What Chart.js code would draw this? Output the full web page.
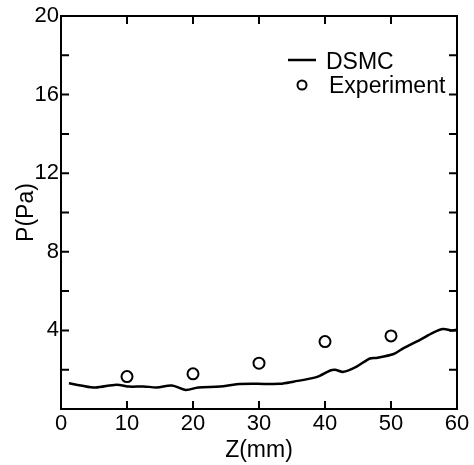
<!DOCTYPE html>
<html>
<head>
<meta charset="utf-8">
<script src="https://cdn.jsdelivr.net/npm/chart.js@4.4.1/dist/chart.umd.min.js"></script>
<style>
  body { margin: 0; background: #fff; }
  #wrap { width: 474px; height: 465px; }
</style>
</head>
<body>
<div id="wrap"><canvas id="chart"></canvas></div>
<script>
// DSMC curve
const dsmcZ = [1.2, 3, 5.2, 8.4, 10.4, 12.5, 14.5, 16.8, 18.9, 20.8, 24.1, 26.6, 29.6, 33.2, 35.2, 38.7, 40.8, 41.5, 42.8, 44.8, 46.8, 47.8, 50.4, 51.9, 54.4, 56.4, 57.9, 59.2, 60];
const dsmcP = [1.31, 1.2, 1.09, 1.24, 1.14, 1.15, 1.1, 1.2, 0.97, 1.1, 1.14, 1.26, 1.28, 1.28, 1.39, 1.62, 1.96, 2.0, 1.89, 2.16, 2.57, 2.6, 2.8, 3.1, 3.52, 3.89, 4.07, 4.0, 4.03];
// experiment points
const expZ = [10, 20, 30, 40, 50];
const expP = [1.65, 1.79, 2.33, 3.43, 3.72];

const xTicks = [0, 10, 20, 30, 40, 50, 60];
const yTicks = [0, 4, 8, 12, 16, 20];
const yMinor = [2, 6, 10, 14, 18];

const font = 'Liberation Sans, Arial, sans-serif';
Chart.defaults.font.family = font;
Chart.defaults.color = '#000';

function pts(xs, ys) {
  return xs.map((x, i) => ({ x: x, y: ys[i] }));
}

// box around the plot with inward ticks
const frame = {
  id: 'frame',
  afterDatasetsDraw(chart) {
    const ctx = chart.ctx;
    const a = chart.chartArea;
    const sx = chart.scales.x, sy = chart.scales.y;
    const len = 8;
    ctx.save();
    ctx.strokeStyle = '#000';
    ctx.lineWidth = 2;
    ctx.strokeRect(a.left, a.top, a.right - a.left, a.bottom - a.top);
    ctx.beginPath();
    xTicks.slice(1, -1).forEach(v => {
      const px = sx.getPixelForValue(v);
      ctx.moveTo(px, a.bottom); ctx.lineTo(px, a.bottom - len);
      ctx.moveTo(px, a.top); ctx.lineTo(px, a.top + len);
    });
    yTicks.slice(1, -1).concat(yMinor).forEach(v => {
      const py = sy.getPixelForValue(v);
      ctx.moveTo(a.left, py); ctx.lineTo(a.left + len, py);
      ctx.moveTo(a.right, py); ctx.lineTo(a.right - len, py);
    });
    ctx.stroke();
    ctx.restore();
  }
};

// legend inside the plot, top right
const legendBox = {
  id: 'legendBox',
  afterDraw(chart) {
    const ctx = chart.ctx;
    const ds = chart.data.datasets;
    ctx.save();
    ctx.font = '23px ' + font;
    ctx.fillStyle = '#000';
    ctx.textBaseline = 'alphabetic';
    ctx.strokeStyle = '#000';
    ctx.lineWidth = 2.5;
    ctx.beginPath();
    ctx.moveTo(288, 60); ctx.lineTo(316, 60);
    ctx.stroke();
    ctx.fillText(ds[0].label, 326, 69);
    ctx.lineWidth = 2;
    ctx.beginPath();
    ctx.arc(302, 85, 4.5, 0, Math.PI * 2);
    ctx.stroke();
    ctx.fillText(ds[1].label, 329, 93);
    ctx.restore();
  }
};

new Chart(document.getElementById('chart'), {
  type: 'scatter',
  data: {
    datasets: [
      {
        label: 'DSMC',
        data: pts(dsmcZ, dsmcP),
        showLine: true,
        borderColor: '#000',
        borderWidth: 2.5,
        pointRadius: 0,
        tension: 0.3
      },
      {
        label: 'Experiment',
        data: pts(expZ, expP),
        showLine: false,
        pointRadius: 5.5,
        pointBackgroundColor: '#fff',
        pointBorderColor: '#000',
        pointBorderWidth: 2
      }
    ]
  },
  options: {
    responsive: true,
    maintainAspectRatio: false,
    animation: false,
    layout: { padding: { top: 16, right: 17, left: 0, bottom: 0 } },
    plugins: { legend: { display: false }, tooltip: { enabled: false } },
    scales: {
      x: {
        type: 'linear',
        min: 0, max: 60,
        afterFit: s => { s.height = 56; },
        afterBuildTicks: s => { s.ticks = xTicks.map(v => ({ value: v })); },
        grid: { display: false, drawTicks: false },
        border: { display: false },
        ticks: { font: { size: 22 }, padding: 2, maxRotation: 0 },
        title: { display: true, text: 'Z(mm)', font: { size: 23 }, padding: { top: 0, bottom: 1 } }
      },
      y: {
        min: 0, max: 20,
        afterFit: s => { s.width = 61; },
        afterBuildTicks: s => { s.ticks = yTicks.map(v => ({ value: v })); },
        grid: { display: false, drawTicks: false },
        border: { display: false },
        ticks: { font: { size: 22 }, padding: 2, callback: v => v === 0 ? '' : v },
        title: { display: true, text: 'P(Pa)', font: { size: 23 }, padding: { top: 13, bottom: 0 } }
      }
    }
  },
  plugins: [frame, legendBox]
});
</script>
</body>
</html>
